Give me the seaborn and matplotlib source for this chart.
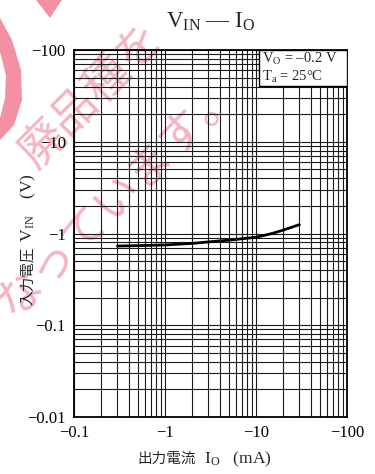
import numpy as np
import pandas as pd
import matplotlib
matplotlib.use('Agg')
import matplotlib.pyplot as plt
import seaborn as sns
from matplotlib.patches import Rectangle, Polygon

# ---- data ----
io_ma = [-0.3, -0.5, -1, -2, -3, -5, -10, -15, -20, -30]
vin_v = [-0.73, -0.737, -0.75, -0.78, -0.81, -0.845, -0.91, -1.0, -1.09, -1.25]
x_ticks = [-0.1, -1, -10, -100]
x_tick_labels = ['\u22120.1', '\u22121', '\u221210', '\u2212100']
y_ticks = [-0.01, -0.1, -1, -10, -100]
y_tick_labels = ['\u22120.01', '\u22120.1', '\u22121', '\u221210', '\u2212100']
legend_lines = ['$\\mathregular{V_O}$ = \u20130.2 V', '$\\mathregular{T_a}$ = 25\u00b0C']
title_text = '$\\mathregular{V_{IN}}$ \u2014 $\\mathregular{I_O}$'
xlabel_jp = '出力電流'
xlabel_sym = '  $\\mathregular{I_O}$   (mA)'
ylabel_jp = '入力電圧'
ylabel_sym = ' $\\mathregular{V_{IN}}$    (V)'
watermark_1 = '廃品種を'
watermark_2 = 'なっています。'

sns.set_theme(style='white')
plt.rcParams['font.family'] = ['Liberation Serif', 'Noto Sans CJK JP', 'DejaVu Sans']
plt.rcParams['mathtext.fontset'] = 'custom'
plt.rcParams['mathtext.rm'] = 'Liberation Serif'
plt.rcParams['mathtext.it'] = 'Liberation Serif:italic'

df = pd.DataFrame({'Io': io_ma, 'Vin': vin_v})

W, H = 375, 474
fig = plt.figure(figsize=(W / 100, H / 100), dpi=100)
fig.patch.set_facecolor('white')


def fx(px):
    return px / W


def fy(py):
    return 1 - py / H


# watermark (behind the chart)
wm_color = '#f6b3c0'
fig.text(fx(92), fy(96), watermark_1, rotation=45, fontsize=33, color=wm_color,
         family=['Noto Sans CJK JP'], ha='center', va='center', zorder=0)
fig.text(fx(118), fy(196), watermark_2, rotation=45, fontsize=33, color=wm_color,
         family=['Noto Sans CJK JP'], ha='center', va='center', zorder=0)
shape_color = '#f390a3'
fig.patches.append(Polygon([(fx(36), fy(0)), (fx(62), fy(0)), (fx(50), fy(18))],
                           closed=True, transform=fig.transFigure, facecolor=shape_color,
                           edgecolor='none', zorder=0))
fig.patches.append(Polygon([(fx(0), fy(18)), (fx(12), fy(40)), (fx(21), fy(70)),
                            (fx(22), fy(100)), (fx(14), fy(125)), (fx(0), fy(140)),
                            (fx(0), fy(118)), (fx(5), fy(98)), (fx(6), fy(75)),
                            (fx(0), fy(52))],
                           closed=True, transform=fig.transFigure, facecolor=shape_color,
                           edgecolor='none', zorder=0))

ax = fig.add_axes([fx(74), fy(417), 273 / W, 367 / H])
ax.set_zorder(1)
ax.patch.set_visible(False)


def fwd(v):
    v = np.asarray(v, dtype=float)
    return np.log10(np.maximum(-v, 1e-300))


def inv(u):
    return -np.power(10.0, np.asarray(u, dtype=float))


ax.set_xscale('function', functions=(fwd, inv))
ax.set_yscale('function', functions=(fwd, inv))

sns.lineplot(data=df, x='Io', y='Vin', ax=ax, color='black', linewidth=2.0,
             estimator=None, sort=False, zorder=4)

x_minor = [-k * 10.0**n for n in range(-1, 2) for k in range(1, 11)]
y_minor = [-k * 10.0**n for n in range(-2, 2) for k in range(1, 11)]
ax.set_xticks(x_minor, minor=True)
ax.set_yticks(y_minor, minor=True)
ax.set_xticks(x_ticks)
ax.set_xticklabels(x_tick_labels)
ax.set_yticks(y_ticks)
ax.set_yticklabels(y_tick_labels)

# -0.1 mA at the left, -0.01 V at the bottom
ax.set_xlim(-0.1, -100)
ax.set_ylim(-0.01, -100)
a = ax.transData.transform((-0.1, -0.01))
b = ax.transData.transform((-100, -100))
if a[0] > b[0]:
    ax.set_xlim(-100, -0.1)
if a[1] > b[1]:
    ax.set_ylim(-100, -0.01)

ax.tick_params(which='both', length=0, labelsize=12, colors='black')
ax.tick_params(axis='x', pad=6)
ax.tick_params(axis='y', pad=6)
ax.set_xlabel('')
ax.set_ylabel('')

ax.grid(True, which='both', color='#1a1a1a', linewidth=0.8)
for s in ax.spines.values():
    s.set_color('black')
    s.set_linewidth(1.3)
    s.set_zorder(5)

# condition box
ax.add_patch(Rectangle((0.678, 0.902), 0.322, 0.098, transform=ax.transAxes,
                       facecolor='white', edgecolor='black', linewidth=1.0, zorder=6))
ax.text(0.69, 0.975, legend_lines[0], transform=ax.transAxes, fontsize=10.5,
        ha='left', va='center', zorder=7)
ax.text(0.69, 0.927, legend_lines[1], transform=ax.transAxes, fontsize=10.5,
        ha='left', va='center', zorder=7)

ax.set_title(title_text, fontsize=16.5, pad=16)

# axis labels: Japanese part in a CJK font, symbol part in serif
tx = fig.text(fx(137), fy(459), xlabel_jp, fontsize=10.5, family=['Noto Sans CJK JP'],
              ha='left', va='center')
ax.annotate(xlabel_sym, xy=(1, 0.5), xycoords=tx, fontsize=12.5, ha='left', va='center',
            annotation_clip=False)
ty = fig.text(fx(28), fy(305), ylabel_jp, fontsize=10.5, family=['Noto Sans CJK JP'],
              rotation=90, ha='center', va='bottom')
ax.annotate(ylabel_sym, xy=(0.5, 1), xycoords=ty, fontsize=12.5, rotation=90,
            ha='center', va='bottom', annotation_clip=False)

fig.savefig('out.png', dpi=100)
